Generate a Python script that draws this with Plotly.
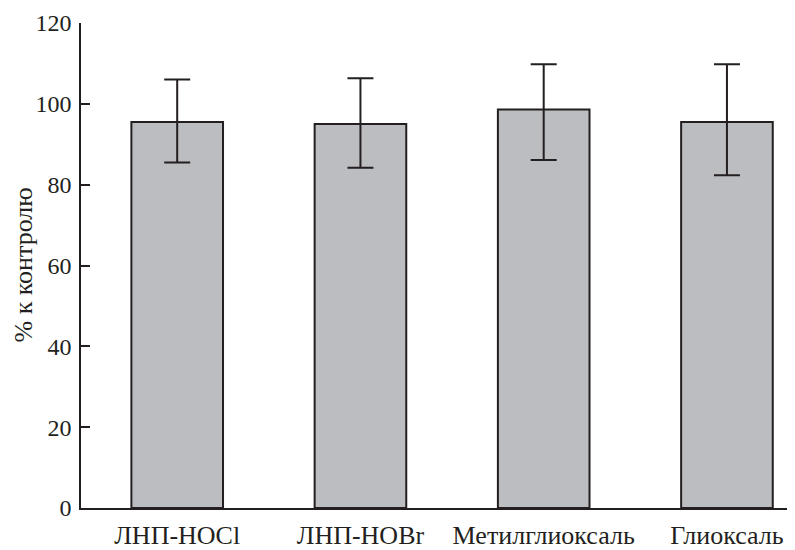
import plotly.graph_objects as go

categories = ["ЛНП-HOCl", "ЛНП-HOBr", "Метилглиоксаль", "Глиоксаль"]
values = [95.5, 95.0, 98.6, 95.5]
err_plus = [10.5, 11.3, 11.2, 14.3]
err_minus = [10.0, 10.8, 12.5, 13.2]
y_ticks = [0, 20, 40, 60, 80, 100, 120]

dark = "#231f20"
font_family = "Liberation Serif, Times New Roman, serif"

fig = go.Figure()
fig.add_trace(go.Bar(
    x=categories, y=values, width=0.5,
    marker=dict(color="#bcbdc1", line=dict(color=dark, width=2)),
    error_y=dict(type="data", symmetric=False, array=err_plus, arrayminus=err_minus,
                 color=dark, thickness=2, width=13),
))

fig.update_layout(
    width=787, height=542,
    margin=dict(l=73, r=3, t=15, b=42),
    plot_bgcolor="white", paper_bgcolor="white",
    showlegend=False,
    font=dict(family=font_family, size=24, color=dark),
    xaxis=dict(range=[-0.525, 3.355], showline=True, linecolor=dark, linewidth=1.5,
               ticks="", showgrid=False, zeroline=False, tickfont=dict(size=26),
               ticklabelstandoff=3, automargin=False),
    yaxis=dict(range=[0, 120], tickvals=y_ticks, showline=True, linecolor=dark, linewidth=1.5,
               ticks="inside", ticklen=9, tickwidth=1.5, tickcolor=dark,
               showgrid=False, zeroline=False, tickfont=dict(size=24),
               ticklabelstandoff=3, automargin=False),
    annotations=[dict(text="% к контролю", xref="paper", yref="paper", x=0, y=0.5,
                      xanchor="center", yanchor="middle",
                      xshift=-58, textangle=-90, showarrow=False,
                      font=dict(size=26, family=font_family, color=dark))],
)

fig.write_html("out.html")
